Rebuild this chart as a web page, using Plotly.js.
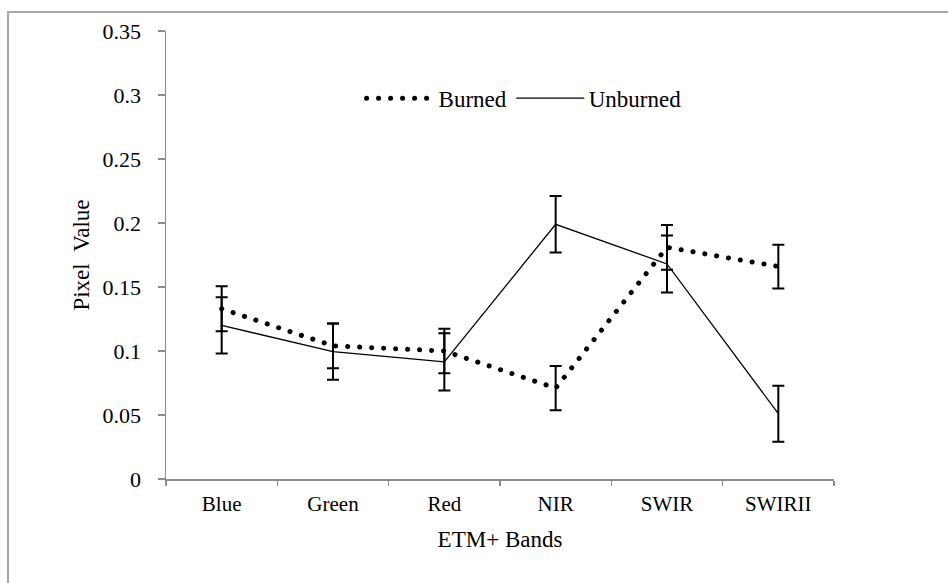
<!DOCTYPE html>
<html>
<head>
<meta charset="utf-8">
<script src="https://cdn.plot.ly/plotly-3.0.1.min.js"></script>
<style>
  html, body { margin: 0; padding: 0; background: #ffffff; overflow: hidden; }
  #frame { position: absolute; left: 7px; top: 11px; width: 1200px; height: 1200px;
           border-left: 2px solid #a6a6a6; border-top: 2px solid #a6a6a6; }
  #chart { position: absolute; left: 0; top: 0; width: 948px; height: 583px; }
  #chart .js-line, #chart .legendlines path { stroke-linecap: round; }
</style>
</head>
<body>
<div id="frame"></div>
<div id="chart"></div>
<script>
// Data
const bands = ["Blue", "Green", "Red", "NIR", "SWIR", "SWIRII"];
const burned = [0.133, 0.104, 0.100, 0.071, 0.181, 0.166];
const burnedErr = [0.0175, 0.0175, 0.0174, 0.0172, 0.0175, 0.0171];
const unburned = [0.120, 0.0995, 0.0915, 0.199, 0.168, 0.051];
const unburnedErr = [0.022, 0.022, 0.0223, 0.022, 0.0222, 0.0219];
const yTicks = [0, 0.05, 0.1, 0.15, 0.2, 0.25, 0.3, 0.35];

const serif = "Liberation Serif";

const traces = [
  {
    name: "Burned",
    x: bands, y: burned, type: "scatter", mode: "lines",
    line: { color: "#000000", width: 5, dash: "0.1px,11.9px" },
    error_y: { type: "data", array: burnedErr, visible: true, color: "#000000", thickness: 2, width: 6 }
  },
  {
    name: "Unburned",
    x: bands, y: unburned, type: "scatter", mode: "lines",
    line: { color: "#000000", width: 1.3 },
    error_y: { type: "data", array: unburnedErr, visible: true, color: "#000000", thickness: 2, width: 6 }
  }
];

const layout = {
  width: 948, height: 583,
  margin: { l: 166, r: 114, t: 31, b: 104 },
  paper_bgcolor: "rgba(0,0,0,0)",
  plot_bgcolor: "rgba(0,0,0,0)",
  font: { family: serif, color: "#000000" },
  showlegend: true,
  legend: {
    orientation: "h", x: 0.536, y: 0.85, xanchor: "center", yanchor: "middle",
    itemwidth: 67,
    font: { family: serif, size: 23, color: "#000000" },
    bgcolor: "rgba(0,0,0,0)", traceorder: "normal"
  },
  xaxis: {
    type: "category", range: [-0.5, 5.5],
    showline: true, linecolor: "#8c8c8c", linewidth: 1.5,
    ticks: "outside", tickson: "boundaries", ticklen: 5, tickcolor: "#8c8c8c", tickwidth: 1.5,
    ticklabelstandoff: 5,
    showgrid: false, zeroline: false,
    tickfont: { family: serif, size: 21, color: "#000000" },
    title: { text: "ETM+ Bands", font: { family: serif, size: 23, color: "#000000" }, standoff: 16 }
  },
  yaxis: {
    range: [0, 0.35], tickvals: yTicks,
    showline: true, linecolor: "#8c8c8c", linewidth: 1.5,
    ticks: "outside", ticklen: 7, tickcolor: "#8c8c8c", tickwidth: 1.5,
    ticklabelstandoff: 12,
    showgrid: false, zeroline: false,
    tickfont: { family: serif, size: 22, color: "#000000" },
    title: { text: "Pixel\u00A0\u00A0Value", font: { family: serif, size: 23, color: "#000000" }, standoff: 6 }
  }
};

Plotly.newPlot("chart", traces, layout, { displayModeBar: false, staticPlot: true });
</script>
</body>
</html>
